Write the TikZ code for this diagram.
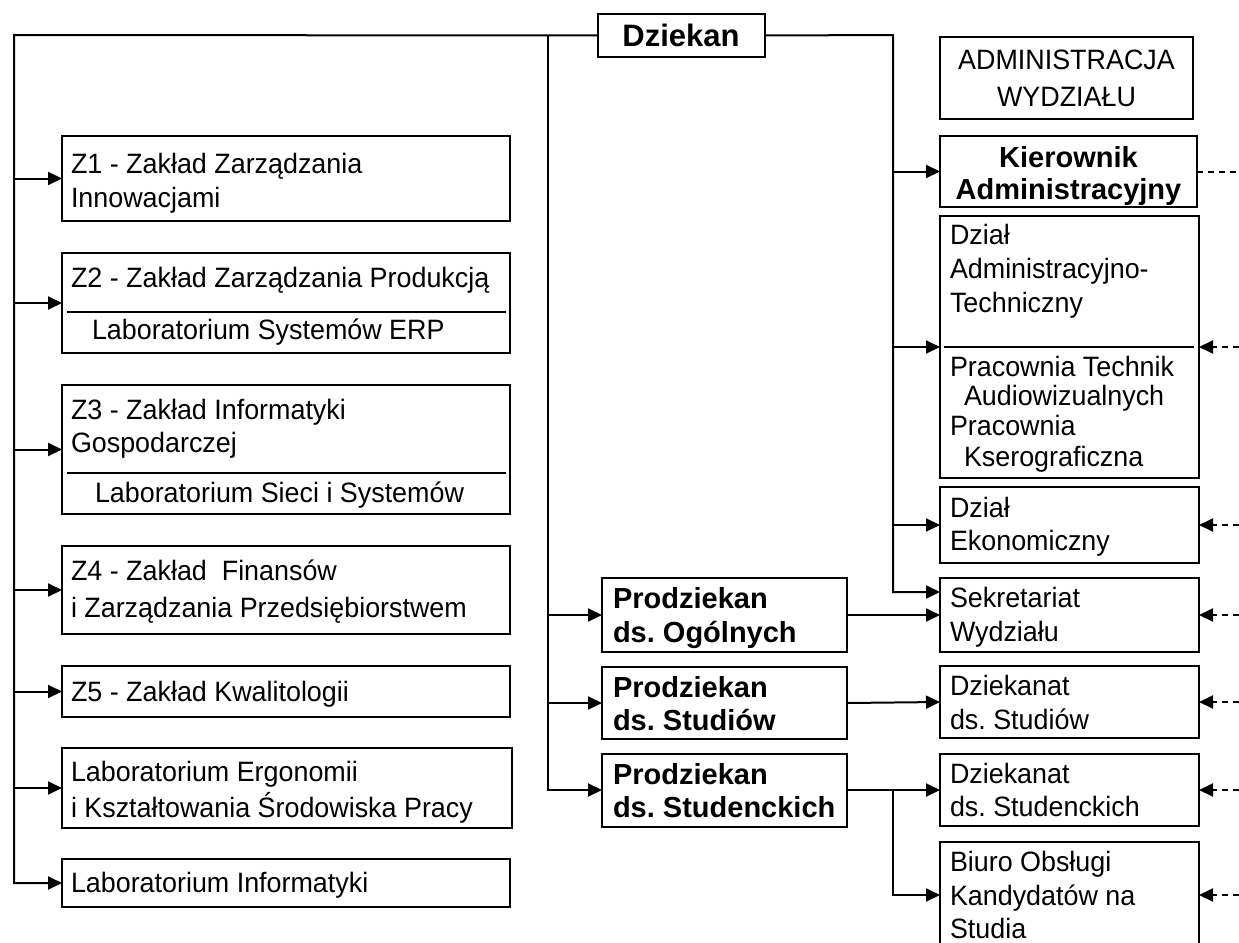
\documentclass[tikz,border=0pt]{standalone}
\usepackage{fontspec}
\setmainfont{Liberation Sans}
\newfontfamily\regfont{Liberation Sans}[FakeStretch=0.96]
\usetikzlibrary{arrows.meta}
\begin{document}
\frenchspacing
\begin{tikzpicture}[x=1pt,y=-1pt,
  box/.style={draw, line width=2pt, inner sep=0pt, outer sep=0pt},
  conn/.style={line width=2pt},
  arr/.style={conn, -{Triangle[length=14pt,width=13pt]}},
  dln/.style={conn, dash pattern=on 6pt off 5pt},
  darr/.style={arr, dash pattern=on 6pt off 5pt},
  txt/.style={inner sep=0pt, outer sep=0pt, anchor=base west, font=\frenchspacing\regfont\fontsize{28}{33}\selectfont},
  ctxt/.style={txt, anchor=base},
  btxt/.style={txt, font=\frenchspacing\fontsize{29}{34}\selectfont\bfseries},
  bctxt/.style={btxt, anchor=base}]
\useasboundingbox (0,0) rectangle (1239,942);

% ---- boxes ----
\node[box, minimum width=167pt, minimum height=43pt] (dz) at (681,35.5) {};
\node[bctxt, font=\fontsize{31}{36}\selectfont\bfseries] (dzt) at (681,47) {Dziekan};

% left column
\node[box, minimum width=448pt, minimum height=85pt]  (z1) at (286,178.5) {};
\node[box, minimum width=448pt, minimum height=100pt] (z2) at (286,303) {};
\node[box, minimum width=448pt, minimum height=129pt] (z3) at (286,449.5) {};
\node[box, minimum width=448pt, minimum height=88pt]  (z4) at (286,590) {};
\node[box, minimum width=448pt, minimum height=51pt]  (z5) at (286,691.5) {};
\node[box, minimum width=450pt, minimum height=80pt]  (le) at (287,788) {};
\node[box, minimum width=448pt, minimum height=48pt]  (li) at (286,883) {};
\draw[conn] (67,312) -- (506,312);
\draw[conn] (67,473) -- (506,473);

\node[txt] (tz1a) at (71,173) {Z1 - Zakład Zarządzania};
\node[txt] (tz1b) at (71,207) {Innowacjami};
\node[txt] (tz2a) at (71,287) {Z2 - Zakład Zarządzania Produkcją};
\node[txt] (tz2b) at (92,339) {Laboratorium Systemów ERP};
\node[txt] (tz3a) at (71,419) {Z3 - Zakład Informatyki};
\node[txt] (tz3b) at (71,452) {Gospodarczej};
\node[txt] (tz3c) at (95,502) {Laboratorium Sieci i Systemów};
\node[txt] (tz4a) at (71,580) {Z4 - Zakład\ \ Finansów};
\node[txt] (tz4b) at (71,617) {i Zarządzania Przedsiębiorstwem};
\node[txt] (tz5)  at (71,701) {Z5 - Zakład Kwalitologii};
\node[txt] (tlea) at (71,781) {Laboratorium Ergonomii};
\node[txt] (tleb) at (71,817) {i Kształtowania Środowiska Pracy};
\node[txt] (tli)  at (71,892) {Laboratorium Informatyki};

% middle column
\node[box, minimum width=245pt, minimum height=74pt] (po)  at (724.5,615) {};
\node[box, minimum width=245pt, minimum height=72pt] (ps)  at (724.5,703) {};
\node[box, minimum width=245pt, minimum height=73pt] (pst) at (724.5,790) {};
\node[btxt] (tpoa)  at (613,608) {Prodziekan};
\node[btxt] (tpob)  at (613,642) {ds. Ogólnych};
\node[btxt] (tpsa)  at (613,697) {Prodziekan};
\node[btxt] (tpsb)  at (613,730) {ds. Studiów};
\node[btxt] (tpsta) at (613,784) {Prodziekan};
\node[btxt] (tpstb) at (613,817) {ds. Studenckich};

% right column
\node[box, minimum width=253pt, minimum height=82pt]  (adm) at (1066.5,78) {};
\node[box, minimum width=257pt, minimum height=71pt]  (ka)  at (1068.5,171.5) {};
\node[box, minimum width=259pt, minimum height=262pt] (da)  at (1069.5,347) {};
\node[box, minimum width=259pt, minimum height=76pt]  (de)  at (1069.5,525) {};
\node[box, minimum width=259pt, minimum height=74pt]  (sw)  at (1069.5,615) {};
\node[box, minimum width=259pt, minimum height=72pt]  (ds)  at (1069.5,702) {};
\node[box, minimum width=259pt, minimum height=72pt]  (dst) at (1069.5,790) {};
\node[box, minimum width=259pt, minimum height=106pt] (bo)  at (1069.5,895) {};
\draw[conn] (944,347) -- (1194,347);

\node[ctxt] (tadma) at (1066.5,70) {ADMINISTRACJA};
\node[ctxt] (tadmb) at (1066.5,106) {WYDZIAŁU};
\node[bctxt] (tkaa) at (1068.5,167) {Kierownik};
\node[bctxt] (tkab) at (1068.5,199) {Administracyjny};
\node[txt] (tda1) at (950,244) {Dział};
\node[txt] (tda2) at (950,278) {Administracyjno-};
\node[txt] (tda3) at (950,312) {Techniczny};
\node[txt] (tda4) at (950,376) {Pracownia Technik};
\node[txt] (tda5) at (964,405) {Audiowizualnych};
\node[txt] (tda6) at (950,435) {Pracownia};
\node[txt] (tda7) at (964,466) {Kserograficzna};
\node[txt] (tdea) at (950,517) {Dział};
\node[txt] (tdeb) at (950,550) {Ekonomiczny};
\node[txt] (tswa) at (950,607) {Sekretariat};
\node[txt] (tswb) at (950,641) {Wydziału};
\node[txt] (tdsa) at (950,695) {Dziekanat};
\node[txt] (tdsb) at (950,729) {ds. Studiów};
\node[txt] (tdsta) at (950,783) {Dziekanat};
\node[txt] (tdstb) at (950,816) {ds. Studenckich};
\node[txt] (tboa) at (950,871) {Biuro Obsługi};
\node[txt] (tbob) at (950,905) {Kandydatów na};
\node[txt] (tboc) at (950,938) {Studia};

% ---- connectors ----
\coordinate (L) at (14,35);
\coordinate (M) at (548,35);
\coordinate (R) at (893,35);
\coordinate (E) at (1239,0);
\coordinate (sw1) at (940,592);

\draw[arr] (dz.west) -- (L) |- (li.west);
\foreach \n in {z1,z2,z3,z4,z5,le} \draw[arr] (L |- \n.west) -- (\n.west);

\draw[arr] (M) |- (pst.west);
\draw[arr] (M |- po.west) -- (po.west);
\draw[arr] (M |- ps.west) -- (ps.west);

\draw[arr] (dz.east) -- (R) |- (sw1);
\foreach \n in {ka,da,de} \draw[arr] (R |- \n.west) -- (\n.west);

\draw[arr] (po.east) -- (sw.west);
\draw[arr] (ps.east) -- (ds.west);
\draw[arr] (pst.east) -- (dst.west);
\draw[arr] (R |- pst.east) |- (bo.west);

\draw[dln] (ka.east) -- (E |- ka.east);
\foreach \n in {da,de,sw,ds,dst,bo} \draw[darr] (E |- \n.east) -- (\n.east);
\end{tikzpicture}
\end{document}
